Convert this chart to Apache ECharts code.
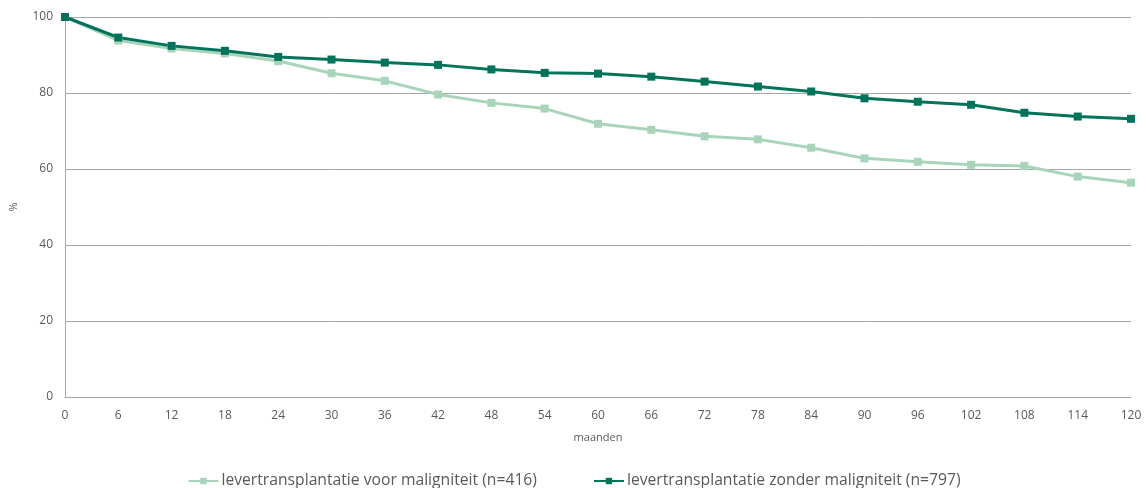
<!DOCTYPE html>
<html>
<head>
<meta charset="utf-8">
<script src="https://cdn.jsdelivr.net/npm/echarts@6/dist/echarts.min.js"></script>
<style>
  html, body { margin: 0; padding: 0; background: #fff; }
  #chart { width: 1148px; height: 488px; }
</style>
</head>
<body>
<div id="chart"></div>
<script>
// Survival after liver transplantation, by months since transplant
const months = [0, 6, 12, 18, 24, 30, 36, 42, 48, 54, 60, 66, 72, 78, 84, 90, 96, 102, 108, 114, 120];
const metMaligniteit = [100, 93.8, 91.7, 90.4, 88.4, 85.2, 83.2, 79.6, 77.4, 75.9, 71.9, 70.3, 68.6, 67.8, 65.6, 62.8, 61.9, 61.1, 60.8, 58.0, 56.4];
const zonderMaligniteit = [100, 94.6, 92.4, 91.1, 89.5, 88.8, 88.0, 87.4, 86.2, 85.3, 85.1, 84.3, 83.0, 81.7, 80.4, 78.6, 77.7, 76.9, 74.8, 73.8, 73.2];
const seriesNames = ['levertransplantatie voor maligniteit (n=416)', 'levertransplantatie zonder maligniteit (n=797)'];
const seriesColors = ['#a8d5b9', '#00735b'];

const toPairs = vals => months.map((m, i) => [m, vals[i]]);
const font = '"Open Sans", "Liberation Sans", sans-serif';
const textColor = '#595959';

const chart = echarts.init(document.getElementById('chart'), null, { renderer: 'canvas' });
chart.setOption({
  animation: false,
  grid: { left: 64, right: 17, top: 17, bottom: 91, containLabel: false },
  legend: {
    top: 468,
    left: 'center',
    itemGap: 56,
    itemWidth: 30,
    itemHeight: 8,
    textStyle: { color: textColor, fontSize: 15.7, fontFamily: font, padding: [0, 0, 0, -2] },
    data: seriesNames
  },
  xAxis: {
    type: 'value',
    min: 0, max: 120, interval: 6,
    name: 'maanden',
    nameLocation: 'middle',
    nameGap: 35,
    nameTextStyle: { color: textColor, fontSize: 11, fontFamily: font },
    axisLine: { show: true, lineStyle: { color: '#a6a6a6', width: 1 } },
    axisTick: { show: false },
    axisLabel: { color: textColor, fontSize: 12, fontFamily: font, margin: 13 },
    splitLine: { show: false }
  },
  yAxis: {
    type: 'value',
    min: 0, max: 100, interval: 20,
    name: '%',
    nameLocation: 'middle',
    nameGap: 46,
    nameRotate: 90,
    nameTextStyle: { color: textColor, fontSize: 11, fontFamily: font },
    axisLine: { show: true, lineStyle: { color: '#a6a6a6', width: 1 } },
    axisTick: { show: false },
    axisLabel: { color: textColor, fontSize: 12, fontFamily: font, margin: 12 },
    splitLine: { show: true, lineStyle: { color: '#a6a6a6', width: 1 } }
  },
  series: [
    {
      name: seriesNames[0],
      type: 'line',
      data: toPairs(metMaligniteit),
      symbol: 'rect',
      symbolSize: 8,
      color: seriesColors[0],
      lineStyle: { width: 3, color: seriesColors[0] },
      itemStyle: { color: seriesColors[0] }
    },
    {
      name: seriesNames[1],
      type: 'line',
      data: toPairs(zonderMaligniteit),
      symbol: 'rect',
      symbolSize: 8,
      color: seriesColors[1],
      lineStyle: { width: 3, color: seriesColors[1] },
      itemStyle: { color: seriesColors[1] }
    }
  ]
});
</script>
</body>
</html>
